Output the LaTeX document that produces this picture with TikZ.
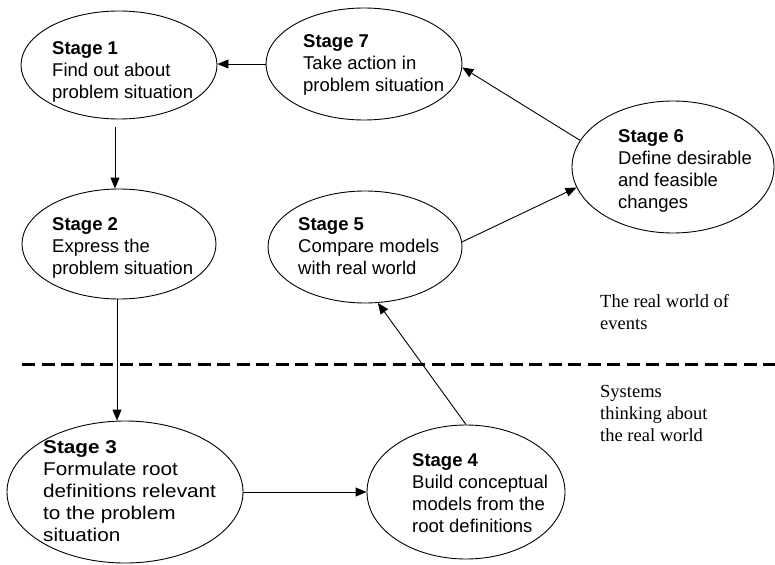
\documentclass[tikz,border=0pt]{standalone}
\usepackage{fontspec}
\setmainfont{Liberation Sans}
\newfontfamily\serifface{Liberation Serif}
\newfontfamily\widesans[FakeStretch=1.12]{Liberation Sans}
\usetikzlibrary{shapes.geometric,arrows.meta}
\begin{document}
\begin{tikzpicture}[x=1pt,y=-1pt,
  stagebox/.style={ellipse, draw, line width=0.9pt, inner sep=0pt},
  stagetext/.style={anchor=north west, align=left, inner sep=0pt, font=\fontsize{18.5}{22}\selectfont},
  worldtext/.style={anchor=north west, align=left, inner sep=0pt, font=\serifface\fontsize{18.5}{22}\selectfont},
  arr/.style={-{Triangle[length=11pt,width=9pt]}, line width=0.9pt},
  divider/.style={line width=3pt, dash pattern=on 13pt off 6.5pt},
]
\useasboundingbox (0,0) rectangle (775,564);

% ellipses
\node[stagebox, minimum width=196pt, minimum height=108pt] (s1) at (119,65) {};
\node[stagebox, minimum width=196pt, minimum height=112pt] (s7) at (364,64) {};
\node[stagebox, minimum width=202pt, minimum height=132pt] (s6) at (673,167) {};
\node[stagebox, minimum width=194pt, minimum height=110pt] (s2) at (119,244) {};
\node[stagebox, minimum width=194pt, minimum height=112pt] (s5) at (365,247) {};
\node[stagebox, minimum width=236pt, minimum height=142pt] (s3) at (125,492) {};
\node[stagebox, minimum width=198pt, minimum height=134pt] (s4) at (466,492) {};

% texts
\node[stagetext] (t1) at (52,40) {\rule{0pt}{14pt}\textbf{Stage 1}\\Find out about\\problem situation};
\node[stagetext] (t7) at (303,33) {\rule{0pt}{14pt}\textbf{Stage 7}\\Take action in\\problem situation};
\node[stagetext] (t6) at (618,128) {\rule{0pt}{14pt}\textbf{Stage 6}\\Define desirable\\and feasible\\changes};
\node[stagetext] (t2) at (52,216) {\rule{0pt}{14pt}\textbf{Stage 2}\\Express the\\problem situation};
\node[stagetext] (t5) at (298,216) {\rule{0pt}{14pt}\textbf{Stage 5}\\Compare models\\with real world};
\node[stagetext, font=\widesans\fontsize{18.5}{22}\selectfont] (t3) at (43,439) {\rule{0pt}{14pt}\textbf{Stage 3}\\Formulate root\\definitions relevant\\to the problem\\situation};
\node[stagetext] (t4) at (412,452) {\rule{0pt}{14pt}\textbf{Stage 4}\\Build conceptual\\models from the\\root definitions};

\node[worldtext] (rw) at (600,293) {\rule{0pt}{14pt}The real world of\\events};
\node[worldtext] (st) at (600,383) {\rule{0pt}{14pt}Systems\\thinking about\\the real world};

% divider
\coordinate (dl) at (22,364);
\coordinate (dr) at (775,364);
\draw[divider] (dl) -- (dr);

% connectors
\draw[arr] (s7.west) -- (s7.west -| s1.east);
\draw[arr, shorten <=8pt] ([xshift=-4pt]s1.south) -- ([xshift=-4pt]s1.south |- s2.north);
\draw[arr] ([xshift=-2pt]s2.south) -- ([xshift=-2pt]s2.south |- s3.north);
\draw[arr] (s3.east) -- (s4.west);
\draw[arr] (s4.north) -- (s5.-77);
\draw[arr] (s5.3) -- (s6.192);
\draw[arr] (s6.164) -- (s7.-2);
\end{tikzpicture}
\end{document}
